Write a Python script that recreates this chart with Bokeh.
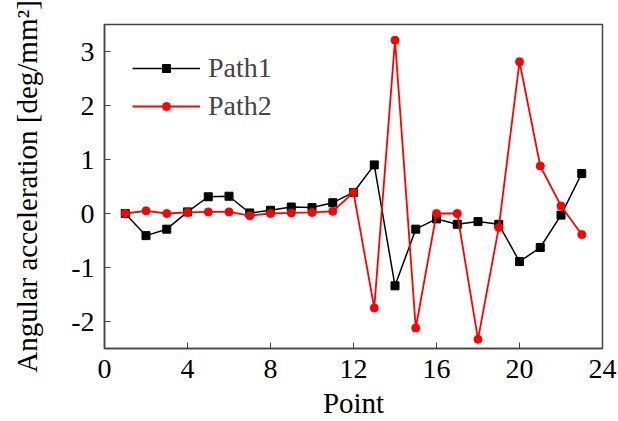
from bokeh.plotting import figure
from bokeh.embed import file_html
from bokeh.resources import INLINE
from bokeh.models import FixedTicker, Range1d, Legend, LegendItem, CustomJSTickFormatter

points = list(range(1, 24))
path1 = [0.0, -0.41, -0.29, 0.03, 0.31, 0.32, 0.01, 0.06, 0.12, 0.11, 0.20, 0.39,
         0.90, -1.34, -0.29, -0.10, -0.20, -0.15, -0.20, -0.89, -0.63, -0.03, 0.74]
path2 = [0.0, 0.05, 0.0, 0.02, 0.03, 0.03, -0.04, 0.0, 0.01, 0.02, 0.04, 0.39,
         -1.75, 3.21, -2.12, 0.0, 0.0, -2.33, -0.26, 2.81, 0.88, 0.14, -0.39]
x_ticks = [0, 4, 8, 12, 16, 20, 24]
y_ticks = [-2, -1, 0, 1, 2, 3]

FONT = "Liberation Serif"

p = figure(width=618, height=421, output_backend="svg", toolbar_location=None,
           x_range=Range1d(0, 24), y_range=Range1d(-2.5, 3.5),
           min_border_left=104, min_border_right=16, min_border_top=24, min_border_bottom=71)
p.grid.visible = False
p.outline_line_color = "#444444"
p.outline_line_width = 1.5

for ax in (p.xaxis[0], p.yaxis[0]):
    ax.major_label_text_font = FONT
    ax.major_label_text_font_size = "28px"
    ax.major_label_text_color = "black"
    ax.axis_label_text_font = FONT
    ax.axis_label_text_font_size = "29px"
    ax.axis_label_text_font_style = "normal"
    ax.axis_label_text_color = "black"
    ax.axis_line_color = "#444444"
    ax.axis_line_width = 1.5
    ax.major_tick_line_color = "#444444"
    ax.major_tick_in = 6
    ax.major_tick_out = 0
    ax.minor_tick_line_color = None
    ax.formatter = CustomJSTickFormatter(code="return tick.toString();")

p.xaxis.ticker = FixedTicker(ticks=x_ticks)
p.yaxis.ticker = FixedTicker(ticks=y_ticks)
p.xaxis.axis_label = "Point"
p.yaxis.axis_label = "Angular acceleration [deg/mm²]"
p.xaxis.major_label_standoff = 11
p.yaxis.major_label_standoff = 10
p.xaxis.axis_label_standoff = 6
p.yaxis.axis_label_standoff = 25

l1 = p.line(points, path1, line_color="black", line_width=1.5)
m1 = p.scatter(points, path1, marker="square", size=8, fill_color="black", line_color="black")
l2 = p.line(points, path2, line_color="red", line_width=1.8)
m2 = p.scatter(points, path2, marker="circle", size=8, fill_color="red", line_color="red")

legend = Legend(items=[LegendItem(label="Path1", renderers=[l1, m1]),
                       LegendItem(label="Path2", renderers=[l2, m2])],
                location="top_left")
legend.border_line_color = None
legend.background_fill_alpha = 0
legend.label_text_font = FONT
legend.label_text_font_size = "28px"
legend.glyph_width = 68
legend.label_standoff = 8
legend.margin = 28
legend.padding = 10
legend.spacing = 6
p.add_layout(legend)

open("out.html", "w").write(file_html(p, INLINE))
